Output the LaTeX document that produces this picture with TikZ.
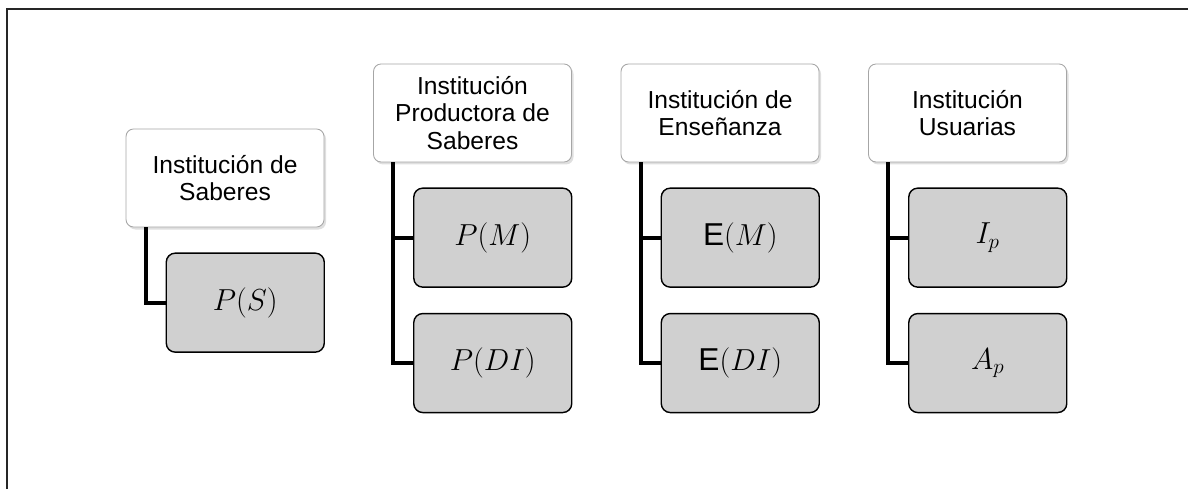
\documentclass[tikz,border=0pt]{standalone}
\usepackage{fontspec}
\setmainfont{Liberation Sans}
\usetikzlibrary{positioning,shadows}

\tikzset{
	head/.style={draw=gray!70, line width=0.5pt, fill=white, rounded corners=0.15cm,
		minimum width=3.96cm, minimum height=1.96cm, align=center, inner sep=1pt,
		font=\fontsize{14}{15.5}\selectfont,
		drop shadow={opacity=0.25, shadow xshift=0.04cm, shadow yshift=-0.05cm}},
	leaf/.style={draw=black, line width=0.8pt, fill=gray!37, rounded corners=0.18cm,
		minimum width=3.16cm, minimum height=1.98cm,
		font=\fontsize{18}{21}\selectfont},
	link/.style={line width=2.3pt, line join=miter}
}

\begin{document}
\begin{tikzpicture}
		\useasboundingbox (0,0) rectangle (23.76,9.78);
		\draw[line width=0.8pt, black!85] (0.14,0) -- (0.14,9.6) -- (23.76,9.6);

		% headers
		\node[head] (saber) at (4.5,6.22) {Institución de\\Saberes};
		\node[head] (prod) at (9.45,7.52) {Institución\\Productora de\\Saberes};
		\node[head] (ense) at (14.4,7.52) {Institución de\\Enseñanza};
		\node[head] (usu) at (19.35,7.52) {Institución\\Usuarias};

		% leaves
		\node[leaf, below right=0.5cm and 0.8cm of saber.south west] (ps) {$P(S)$};
		\node[leaf, below right=0.5cm and 0.8cm of prod.south west] (pm) {$P(M)$};
		\node[leaf, below=0.5cm of pm] (pdi) {$P(DI)$};
		\node[leaf, below right=0.5cm and 0.8cm of ense.south west] (em) {E$(M)$};
		\node[leaf, below=0.5cm of em] (edi) {E$(DI)$};
		\node[leaf, below right=0.5cm and 0.8cm of usu.south west] (ip) {$I_p$};
		\node[leaf, below=0.5cm of ip] (ap) {$A_p$};

		\draw[link] ([xshift=0.4cm]saber.south west) |- (ps.west);
		\draw[link] ([xshift=0.4cm]prod.south west) |- (pm.west);
		\draw[link] ([xshift=0.4cm]prod.south west) |- (pdi.west);
		\draw[link] ([xshift=0.4cm]ense.south west) |- (em.west);
		\draw[link] ([xshift=0.4cm]ense.south west) |- (edi.west);
		\draw[link] ([xshift=0.4cm]usu.south west) |- (ip.west);
		\draw[link] ([xshift=0.4cm]usu.south west) |- (ap.west);
	\end{tikzpicture}
\end{document}
